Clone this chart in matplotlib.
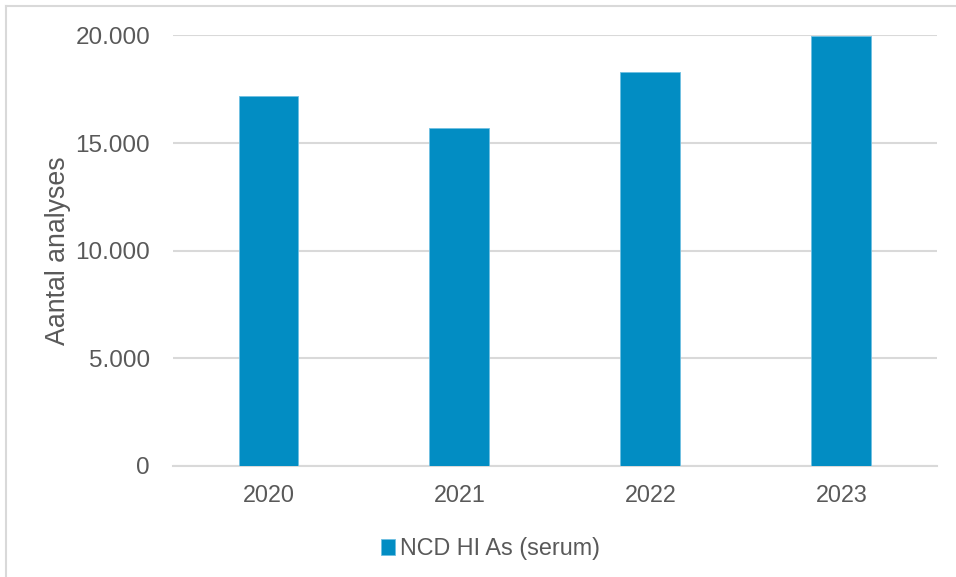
import matplotlib
matplotlib.use("Agg")
import matplotlib.pyplot as plt
from matplotlib.lines import Line2D
from matplotlib.patches import Patch
from matplotlib.ticker import FuncFormatter, MultipleLocator

years = ["2020", "2021", "2022", "2023"]
analyses = [17200, 15680, 18300, 19960]
series_name = "NCD HI As (serum)"

bar_color = "#028DC3"
text_color = "#595959"
grid_color = "#D9D9D9"

plt.rcParams["font.family"] = ["Liberation Sans", "DejaVu Sans"]

fig = plt.figure(figsize=(9.56, 5.77), dpi=100)
ax = fig.add_axes([0.181, 0.193, 0.799, 0.7455])

x = range(len(years))
ax.bar(x, analyses, width=0.314, color=bar_color, edgecolor="#6FC0E2",
       linewidth=0.6, zorder=3)

ax.set_xlim(-0.5, len(years) - 0.5)
ax.set_ylim(0, 20000)
ax.yaxis.set_major_locator(MultipleLocator(5000))
ax.yaxis.set_major_formatter(
    FuncFormatter(lambda v, _: f"{int(v):,}".replace(",", ".")))
ax.set_xticks(list(x))
ax.set_xticklabels(years)

ax.grid(axis="y", color=grid_color, linewidth=1.5, zorder=0)
for side in ("top", "right", "left"):
    ax.spines[side].set_visible(False)
ax.spines["bottom"].set_color(grid_color)
ax.spines["bottom"].set_linewidth(1.5)
ax.tick_params(axis="both", length=0, labelcolor=text_color)
ax.tick_params(axis="y", pad=16.5, labelsize=17.5)
ax.tick_params(axis="x", pad=13.5, labelsize=16.8)

ax.set_ylabel("Aantal analyses", fontsize=19.3, color=text_color)
ax.yaxis.set_label_coords(-0.134, 0.5)

handle = Patch(facecolor=bar_color, edgecolor="#6FC0E2", linewidth=0.6)
fig.legend([handle], [series_name], loc="center", bbox_to_anchor=(0.513, 0.049),
           frameon=False, fontsize=16.8, labelcolor=text_color,
           handlelength=0.6, handleheight=0.65, handletextpad=0.2)

# thin frame along the top and left edges of the figure
fig.add_artist(Line2D([6 / 956, 1], [1 - 6 / 577, 1 - 6 / 577],
                      transform=fig.transFigure, color=grid_color, linewidth=1.5))
fig.add_artist(Line2D([6 / 956, 6 / 956], [0, 1 - 6 / 577],
                      transform=fig.transFigure, color=grid_color, linewidth=1.5))

fig.savefig("out.png", dpi=100)
